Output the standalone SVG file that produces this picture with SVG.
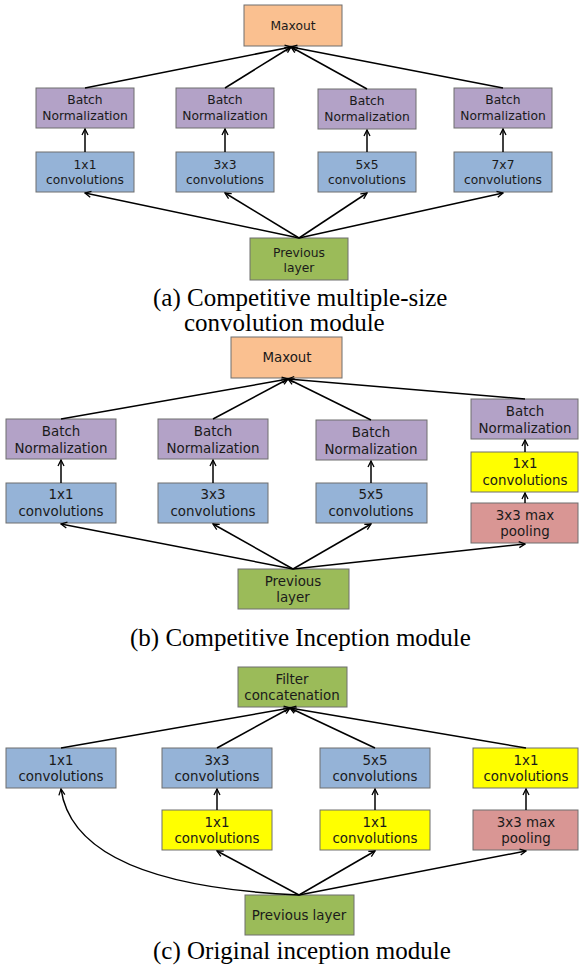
<svg xmlns="http://www.w3.org/2000/svg" width="579" height="971" viewBox="0 0 579 971">
<defs>
<marker id="arr" viewBox="0 0 8 8" refX="7" refY="4" markerWidth="8" markerHeight="8" markerUnits="userSpaceOnUse" orient="auto">
<path d="M1,1 L7,4 L1,7" fill="none" stroke="#000" stroke-width="1.3"/>
</marker>
<style>
rect{stroke:#6e6e6e;stroke-width:1}
.mo{fill:#FAC090}.bn{fill:#B3A2C7}.cv{fill:#95B3D7}.gr{fill:#9BBB59}.ye{fill:#FFFF00}.pl{fill:#D99694}
text{font-family:"DejaVu Sans",sans-serif;fill:#1a1a1a;text-anchor:middle}
.a text{font-size:12.3px}
.b text,.c text{font-size:13.4px}
text.cap{font-family:"Liberation Serif","Times New Roman",serif;font-size:25px;fill:#000;text-anchor:start}
#edges path,#edges line{stroke:#000;stroke-width:1.5;fill:none;marker-end:url(#arr)}
</style>
</defs>
<rect width="579" height="971" fill="#fff" style="stroke:none"/>
<g class="a">
<g id="a_maxout"><rect class="mo" x="244" y="5" width="98" height="41"/><text x="293" y="30">Maxout</text></g>
<g id="a_bn1"><rect class="bn" x="36" y="88" width="98" height="40"/><text x="85" y="104">Batch</text><text x="85" y="120">Normalization</text></g>
<g id="a_bn2"><rect class="bn" x="176" y="88" width="98" height="40"/><text x="225" y="104">Batch</text><text x="225" y="120">Normalization</text></g>
<g id="a_bn3"><rect class="bn" x="318" y="89" width="98" height="40"/><text x="367" y="105">Batch</text><text x="367" y="121">Normalization</text></g>
<g id="a_bn4"><rect class="bn" x="454" y="88" width="98" height="40"/><text x="503" y="104">Batch</text><text x="503" y="120">Normalization</text></g>
<g id="a_c1"><rect class="cv" x="36" y="152" width="98" height="40"/><text x="85" y="169">1x1</text><text x="85" y="184">convolutions</text></g>
<g id="a_c3"><rect class="cv" x="176" y="152" width="98" height="40"/><text x="225" y="169">3x3</text><text x="225" y="184">convolutions</text></g>
<g id="a_c5"><rect class="cv" x="318" y="152" width="98" height="40"/><text x="367" y="169">5x5</text><text x="367" y="184">convolutions</text></g>
<g id="a_c7"><rect class="cv" x="454" y="152" width="98" height="40"/><text x="503" y="169">7x7</text><text x="503" y="184">convolutions</text></g>
<g id="a_prev"><rect class="gr" x="250" y="238" width="98" height="42"/><text x="299" y="257">Previous</text><text x="299" y="272">layer</text></g>
</g>
<text class="cap" x="153" y="306">(a) Competitive multiple-size</text>
<text class="cap" x="184" y="331">convolution module</text>
<g class="b">
<g id="b_maxout"><rect class="mo" x="231" y="337" width="111" height="41"/><text x="287" y="362">Maxout</text></g>
<g id="b_bn1"><rect class="bn" x="6" y="419" width="110" height="40"/><text x="61" y="436">Batch</text><text x="61" y="453">Normalization</text></g>
<g id="b_bn2"><rect class="bn" x="158" y="419" width="110" height="40"/><text x="213" y="436">Batch</text><text x="213" y="453">Normalization</text></g>
<g id="b_bn3"><rect class="bn" x="316" y="420" width="111" height="40"/><text x="371" y="437">Batch</text><text x="371" y="454">Normalization</text></g>
<g id="b_bn4"><rect class="bn" x="471" y="399" width="107" height="40"/><text x="525" y="416">Batch</text><text x="525" y="433">Normalization</text></g>
<g id="b_c1"><rect class="cv" x="6" y="483" width="110" height="40"/><text x="61" y="499">1x1</text><text x="61" y="516">convolutions</text></g>
<g id="b_c3"><rect class="cv" x="158" y="483" width="110" height="40"/><text x="213" y="499">3x3</text><text x="213" y="516">convolutions</text></g>
<g id="b_c5"><rect class="cv" x="316" y="483" width="111" height="40"/><text x="371" y="499">5x5</text><text x="371" y="516">convolutions</text></g>
<g id="b_y1"><rect class="ye" x="471" y="452" width="107" height="40"/><text x="525" y="468">1x1</text><text x="525" y="485">convolutions</text></g>
<g id="b_pool"><rect class="pl" x="471" y="503" width="107" height="40"/><text x="525" y="520">3x3 max</text><text x="525" y="536">pooling</text></g>
<g id="b_prev"><rect class="gr" x="238" y="569" width="111" height="40"/><text x="293" y="586">Previous</text><text x="293" y="602">layer</text></g>
</g>
<text class="cap" x="130" y="646">(b) Competitive Inception module</text>
<g class="c">
<g id="c_concat"><rect class="gr" x="238" y="667" width="109" height="40"/><text x="292" y="684">Filter</text><text x="292" y="700">concatenation</text></g>
<g id="c_c1"><rect class="cv" x="6" y="748" width="110" height="40"/><text x="61" y="765">1x1</text><text x="61" y="781">convolutions</text></g>
<g id="c_c3"><rect class="cv" x="162" y="748" width="110" height="40"/><text x="217" y="765">3x3</text><text x="217" y="781">convolutions</text></g>
<g id="c_c5"><rect class="cv" x="320" y="748" width="110" height="40"/><text x="375" y="765">5x5</text><text x="375" y="781">convolutions</text></g>
<g id="c_y4"><rect class="ye" x="473" y="748" width="105" height="40"/><text x="526" y="765">1x1</text><text x="526" y="781">convolutions</text></g>
<g id="c_y2"><rect class="ye" x="162" y="810" width="110" height="40"/><text x="217" y="827">1x1</text><text x="217" y="843">convolutions</text></g>
<g id="c_y3"><rect class="ye" x="320" y="810" width="110" height="40"/><text x="375" y="827">1x1</text><text x="375" y="843">convolutions</text></g>
<g id="c_pool"><rect class="pl" x="473" y="810" width="105" height="40"/><text x="526" y="827">3x3 max</text><text x="526" y="843">pooling</text></g>
<g id="c_prev"><rect class="gr" x="245" y="895" width="109" height="40"/><text x="299" y="920">Previous layer</text></g>
</g>
<text class="cap" x="153" y="959">(c) Original inception module</text>
<g id="edges">
<line x1="85" y1="152" x2="85" y2="129"/><line x1="225" y1="152" x2="225" y2="129"/><line x1="367" y1="152" x2="367" y2="130"/><line x1="503" y1="152" x2="503" y2="129"/>
<line x1="85" y1="88" x2="291" y2="47"/><line x1="225" y1="88" x2="291" y2="47"/><line x1="367" y1="89" x2="291" y2="47"/><line x1="503" y1="88" x2="291" y2="47"/>
<line x1="299" y1="238" x2="85" y2="193"/><line x1="299" y1="238" x2="225" y2="193"/><line x1="299" y1="238" x2="367" y2="193"/><line x1="299" y1="238" x2="503" y2="193"/>
<line x1="61" y1="483" x2="61" y2="460"/><line x1="213" y1="483" x2="213" y2="460"/><line x1="371" y1="483" x2="371" y2="461"/>
<line x1="525" y1="503" x2="525" y2="493"/><line x1="525" y1="452" x2="525" y2="440"/>
<line x1="61" y1="419" x2="288" y2="379"/><line x1="213" y1="419" x2="288" y2="379"/><line x1="371" y1="420" x2="288" y2="379"/><line x1="525" y1="399" x2="288" y2="379"/>
<line x1="293" y1="569" x2="61" y2="524"/><line x1="293" y1="569" x2="213" y2="524"/><line x1="293" y1="569" x2="371" y2="524"/><line x1="293" y1="569" x2="525" y2="544"/>
<line x1="61" y1="748" x2="290" y2="708"/><line x1="217" y1="748" x2="290" y2="708"/><line x1="375" y1="748" x2="290" y2="708"/><line x1="526" y1="748" x2="290" y2="708"/>
<line x1="217" y1="810" x2="217" y2="789"/><line x1="375" y1="810" x2="375" y2="789"/><line x1="526" y1="810" x2="526" y2="789"/>
<line x1="299" y1="895" x2="217" y2="851"/><line x1="299" y1="895" x2="375" y2="851"/><line x1="299" y1="895" x2="526" y2="851"/>
<path d="M299,895 Q75,885 61,789"/>
</g>
</svg>
